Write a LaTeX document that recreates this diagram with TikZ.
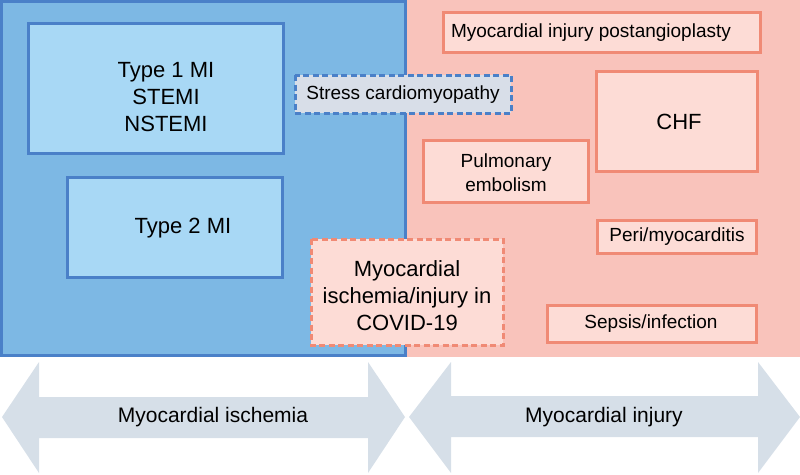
\documentclass[tikz,border=0pt]{standalone}
\usepackage{fontspec}
\setmainfont{Liberation Sans}
\definecolor{bluefill}{HTML}{7DB8E4}
\definecolor{blueline}{HTML}{4A80C8}
\definecolor{lightblue}{HTML}{A8D8F5}
\definecolor{greyblue}{HTML}{D8DEE8}
\definecolor{pinkfill}{HTML}{F9C3BB}
\definecolor{pinkbox}{HTML}{FDDCD6}
\definecolor{pinkline}{HTML}{F08A75}
\definecolor{arrowfill}{HTML}{D6DFE8}
\begin{document}
\begin{tikzpicture}[x=1pt,y=-1pt,
  bluebox/.style={draw=blueline,fill=lightblue,line width=3pt},
  pbox/.style={draw=pinkline,fill=pinkbox,line width=3pt},
  dashbox/.style={line width=3pt,dash pattern=on 6pt off 3.5pt},
  big/.style={align=center,font=\fontsize{22}{27}\selectfont},
  mid/.style={align=center,font=\fontsize{19}{24}\selectfont},
  arrlbl/.style={font=\fontsize{21}{25}\selectfont},
  arr/.style={fill=arrowfill}]
\useasboundingbox (0,0) rectangle (800,474);
% background regions
\fill[pinkfill] (406,0) rectangle (800,357);
\draw[draw=blueline,fill=bluefill,line width=3pt] (1.5,1.5) rectangle (405.5,355.5);
% blue boxes
\draw[bluebox] (28,23) rectangle (283,153);
\node[big] (t1) at (166,97) {Type 1 MI\\STEMI\\NSTEMI};
\draw[bluebox] (67,177) rectangle (282,277);
\node[big] (t2) at (183,228) {Type 2 MI};
% stress cardiomyopathy
\draw[dashbox,draw=blueline,fill=greyblue] (295,75) rectangle (511,113);
\node[mid] (sc) at (403,95) {Stress cardiomyopathy};
% pink boxes
\draw[pbox] (443,12) rectangle (760,52);
\node[mid] (mp) at (591,33) {Myocardial injury postangioplasty};
\draw[pbox] (423,140) rectangle (588,202);
\node[mid] (pe) at (506,173) {Pulmonary\\embolism};
\draw[pbox] (596,71) rectangle (757,171);
\node[big] (chf) at (679,122) {CHF};
\draw[pbox] (597,220) rectangle (756,253);
\node[mid] (pm) at (677,237) {Peri/myocarditis};
\draw[pbox] (547,305) rectangle (756,342);
\node[mid] (si) at (651,324) {Sepsis/infection};
% covid
\draw[dashbox,draw=pinkline,fill=pinkbox] (311,239) rectangle (503,345);
\node[big] (cv) at (407,296) {Myocardial\\ischemia/injury in\\COVID-19};
% arrows
\fill[arr] (2,417) -- (39,362) -- (39,397) -- (368,397) -- (368,362) -- (405,417) -- (368,473) -- (368,438) -- (39,438) -- (39,473) -- cycle;
\node[arrlbl] (a1) at (213,417) {Myocardial ischemia};
\fill[arr] (409,417) -- (451,362) -- (451,396) -- (758,396) -- (758,362) -- (800,417) -- (758,473) -- (758,437) -- (451,437) -- (451,473) -- cycle;
\node[arrlbl] (a2) at (604,417) {Myocardial injury};
\end{tikzpicture}
\end{document}
